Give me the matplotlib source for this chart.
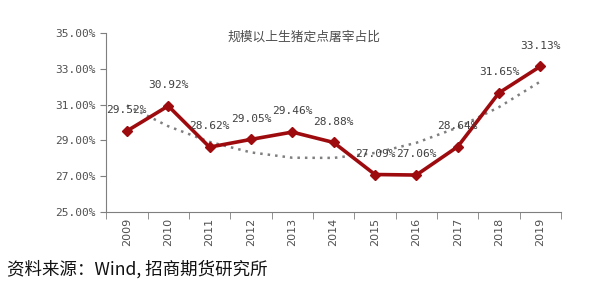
import matplotlib
matplotlib.use("Agg")
import matplotlib.pyplot as plt
import numpy as np
from matplotlib.ticker import FuncFormatter

plt.rcParams['font.family'] = ['DejaVu Sans', 'Noto Sans CJK SC']

years = ['2009', '2010', '2011', '2012', '2013', '2014', '2015', '2016', '2017', '2018', '2019']
share = [29.52, 30.92, 28.62, 29.05, 29.46, 28.88, 27.09, 27.06, 28.64, 31.65, 33.13]
title = '规模以上生猪定点屠宰占比'
source = '资料来源：Wind, 招商期货研究所'

fig = plt.figure(figsize=(6, 2.86), dpi=100)
ax = fig.add_axes([0.177, 0.259, 0.758, 0.626])

x = np.arange(len(years))
coef = np.polyfit(x, share, 2)
ax.plot(x, np.polyval(coef, x), linestyle=(0, (1, 2)), color='#7f7f7f', lw=1.8, zorder=2)
ax.plot(x, share, color='#9e0b0f', lw=2.6, marker='D', markersize=5.5, zorder=3)

mono = ['DejaVu Sans Mono']
for xi, v in zip(x, share):
    ax.annotate(f'{v:.2f}%', (xi, v), xytext=(0, 15), textcoords='offset points',
                ha='center', va='center', fontsize=8, color='#404040', zorder=4,
                family=mono)

ax.set_xlim(-0.5, len(years) - 0.5)
ax.set_ylim(25, 35)
ax.set_yticks([25, 27, 29, 31, 33, 35])
ax.yaxis.set_major_formatter(FuncFormatter(lambda v, p: f'{v:.2f}%'))
ax.set_xticks(x)
ax.set_xticklabels(years, rotation=90, fontsize=8, color='#505050')
ax.set_xticks(np.arange(-0.5, len(years)), minor=True)
ax.tick_params(axis='x', which='major', length=0, pad=4)
ax.tick_params(axis='x', which='minor', length=5, color='#7f7f7f')
ax.tick_params(axis='y', length=4, color='#7f7f7f', labelsize=8, labelcolor='#505050')
for lab in ax.get_yticklabels():
    lab.set_family(mono)
for s in ['top', 'right']:
    ax.spines[s].set_visible(False)
for s in ['left', 'bottom']:
    ax.spines[s].set_color('#7f7f7f')

ax.text(0.436, 0.978, title, transform=ax.transAxes, ha='center', va='center',
        fontsize=9.2, color='#505050', family=['Noto Sans CJK SC'])
fig.text(0.012, 0.058, source, ha='left', va='center', fontsize=12.6, style='italic',
         color='#111111', family=['Noto Sans CJK SC', 'DejaVu Sans'])

fig.savefig('out.png', dpi=100)
